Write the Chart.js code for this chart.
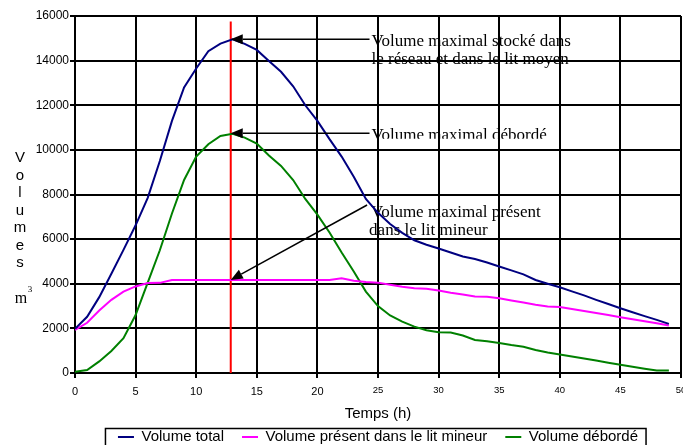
<!DOCTYPE html>
<html lang="fr">
<head>
<meta charset="UTF-8">
<title>Volumes</title>
<style>
  html, body { margin: 0; padding: 0; background: #fff; }
  #cadre { width: 683px; height: 445px; }
</style>
</head>
<body>
<div id="cadre"><canvas id="myChart" width="683" height="445"></canvas></div>
<script src="https://cdn.jsdelivr.net/npm/chart.js@4.4.0/dist/chart.umd.min.js"></script>
<script>
// Temps (h) et volumes (m3) relevés heure par heure
const heures = [0, 1, 2, 3, 4, 5, 6, 7, 8, 9, 10, 11, 12, 13, 14, 15, 16, 17, 18, 19,
    20, 21, 22, 23, 24, 25, 26, 27, 28, 29, 30, 31, 32, 33, 34, 35, 36, 37, 38, 39,
    40, 41, 42, 43, 44, 45, 46, 47, 48, 49];

const volumeTotal = [1980, 2520, 3400, 4450, 5520, 6620, 7850, 9500, 11300, 12800,
    13650, 14420, 14760, 14950, 14750, 14480, 13980, 13500, 12850, 12000,
    11300, 10480, 9700, 8800, 7800, 7180, 6680, 6280, 5950, 5750,
    5580, 5400, 5220, 5110, 4950, 4770, 4600, 4420, 4170, 4000,
    3840, 3660, 3480, 3280, 3090, 2900, 2720, 2550, 2380, 2200];

const volumeLitMineur = [1930, 2250, 2800, 3280, 3650, 3880, 4030, 4040, 4170, 4170,
    4170, 4170, 4170, 4170, 4170, 4170, 4170, 4170, 4170, 4170,
    4170, 4170, 4250, 4130, 4080, 4050, 3960, 3870, 3800, 3780,
    3700, 3600, 3520, 3430, 3420, 3350, 3250, 3160, 3060, 2980,
    2960, 2870, 2780, 2690, 2600, 2500, 2410, 2320, 2230, 2130];

const volumeDeborde = [50, 130, 520, 990, 1560, 2600, 4050, 5500, 7150, 8650,
    9700, 10250, 10620, 10720, 10550, 10280, 9750, 9280, 8650, 7800,
    7100, 6300, 5400, 4550, 3650, 3000, 2580, 2300, 2080, 1920,
    1830, 1810, 1680, 1480, 1420, 1340, 1250, 1180, 1030, 920,
    830, 740, 650, 560, 460, 370, 280, 190, 110, 110];

const ticksX = [0, 5, 10, 15, 20, 25, 30, 35, 40, 45, 50];
const ticksY = [0, 2000, 4000, 6000, 8000, 10000, 12000, 14000, 16000];

// ligne rouge : instant du maximum
const tempsPic = 12.85;
const hautLignePic = 15750;

// flèches d'annotation : pointe sur la ligne rouge, queue vers le texte
const noteTextes = [
    ['Volume maximal stocké dans', 'le réseau et dans le lit moyen'],
    ['Volume maximal débordé'],
    ['Volume maximal présent', 'dans le lit mineur']
];
const notePointeY = [14960, 10750, 4170];
const noteQueueX = [24.3, 24.3, 24.1];
const noteQueueY = [14960, 10750, 7530];

const SANS = '"Liberation Sans", Arial, sans-serif';
const SERIF = '"Liberation Serif", "Times New Roman", serif';

function points(valeurs) {
    return valeurs.map((v, i) => ({ x: heures[i], y: v }));
}

// textes des annotations, sous la grille
const textesNotes = {
    id: 'textesNotes',
    beforeDraw(chart) {
        const ctx = chart.ctx;
        const sx = chart.scales.x, sy = chart.scales.y;
        ctx.save();
        ctx.fillStyle = '#000';
        ctx.font = '17px ' + SERIF;
        ctx.textAlign = 'left';
        ctx.textBaseline = 'alphabetic';
        for (let i = 0; i < noteTextes.length; i++) {
            const qx = sx.getPixelForValue(noteQueueX[i]);
            const qy = sy.getPixelForValue(noteQueueY[i]);
            if (i === 0) {
                ctx.fillText(noteTextes[i][0], qx + 2, qy + 7);
                ctx.fillText(noteTextes[i][1], qx + 2, qy + 25);
            } else if (i === 1) {
                // cadre du texte rogné sous la flèche
                ctx.save();
                ctx.beginPath();
                ctx.rect(qx, qy - 10, 220, 15.5);
                ctx.clip();
                ctx.fillText(noteTextes[i][0], qx + 2, qy + 7);
                ctx.restore();
            } else {
                ctx.fillText(noteTextes[i][0], qx + 4, qy + 12);
                ctx.fillText(noteTextes[i][1], qx + 2, qy + 30);
            }
        }
        ctx.restore();
    }
};

// flèches noires
const flechesNotes = {
    id: 'flechesNotes',
    afterDatasetsDraw(chart) {
        const ctx = chart.ctx;
        const sx = chart.scales.x, sy = chart.scales.y;
        ctx.save();
        ctx.strokeStyle = '#000';
        ctx.fillStyle = '#000';
        ctx.lineWidth = 1.5;
        for (let i = 0; i < noteTextes.length; i++) {
            const px = sx.getPixelForValue(tempsPic);
            const py = sy.getPixelForValue(notePointeY[i]);
            const qx = sx.getPixelForValue(noteQueueX[i]);
            const qy = sy.getPixelForValue(noteQueueY[i]);
            const ang = Math.atan2(qy - py, qx - px);
            const lg = 12, dem = 5;
            const bx = px + Math.cos(ang) * lg, by = py + Math.sin(ang) * lg;
            ctx.beginPath();
            ctx.moveTo(qx, qy);
            ctx.lineTo(bx, by);
            ctx.stroke();
            ctx.beginPath();
            ctx.moveTo(px, py);
            ctx.lineTo(bx - Math.sin(ang) * dem, by + Math.cos(ang) * dem);
            ctx.lineTo(bx + Math.sin(ang) * dem, by - Math.cos(ang) * dem);
            ctx.closePath();
            ctx.fill();
        }
        ctx.restore();
    }
};

// titre vertical de l'axe Y, cadre de la légende
const habillage = {
    id: 'habillage',
    afterDraw(chart) {
        const ctx = chart.ctx;
        const area = chart.chartArea;
        ctx.save();
        ctx.fillStyle = '#000';
        ctx.textAlign = 'center';
        ctx.textBaseline = 'alphabetic';
        ctx.font = '15px ' + SANS;
        const lettres = 'Volumes'.split('');
        const y0 = area.top + 146;
        lettres.forEach((l, i) => ctx.fillText(l, 20, y0 + i * 17.5));
        ctx.font = '16px ' + SERIF;
        ctx.fillText('m', 21, area.top + 287);
        ctx.font = '9px ' + SERIF;
        ctx.fillText('3', 30, area.top + 276);

        const lg = chart.legend;
        const boites = lg.legendHitBoxes;
        if (boites && boites.length) {
            const premier = boites[0];
            const dernier = boites[boites.length - 1];
            const gauche = premier.left - 12.5;
            const droite = dernier.left + dernier.width + 8;
            ctx.strokeStyle = '#000';
            ctx.lineWidth = 1.5;
            ctx.strokeRect(gauche, premier.top - 1, droite - gauche, 18);
        }
        ctx.restore();
    }
};

// l'axe X va jusqu'au bord droit, l'étiquette 50 est coupée
function sansMarges(s) {
    s.paddingLeft = 0;
    s.paddingRight = 0;
}

const ctx = document.getElementById('myChart');

new Chart(ctx, {
    type: 'line',
    data: {
        datasets: [{
            label: 'Volume total',
            data: points(volumeTotal),
            borderColor: '#000080',
            backgroundColor: '#000080',
            borderWidth: 2
        }, {
            label: 'Volume présent dans le lit mineur',
            data: points(volumeLitMineur),
            borderColor: '#ff00ff',
            backgroundColor: '#ff00ff',
            borderWidth: 2
        }, {
            label: 'Volume débordé',
            data: points(volumeDeborde),
            borderColor: '#008000',
            backgroundColor: '#008000',
            borderWidth: 2
        }, {
            label: 'pic',
            data: [{ x: tempsPic, y: 0 }, { x: tempsPic, y: hautLignePic }],
            borderColor: '#ff0000',
            backgroundColor: '#ff0000',
            borderWidth: 2
        }]
    },
    options: {
        responsive: false,
        animation: false,
        events: [],
        elements: {
            point: { radius: 0 },
            line: { tension: 0 }
        },
        layout: {
            autoPadding: false,
            padding: { top: 16, left: 35, right: 2, bottom: -9.5 }
        },
        scales: {
            x: {
                type: 'linear',
                min: 0,
                max: 50,
                afterBuildTicks: s => { s.ticks = ticksX.map(v => ({ value: v })); },
                afterFit: s => { s.height = 38.5; sansMarges(s); },
                grid: { color: '#000', lineWidth: 2, tickLength: 5, tickColor: '#000' },
                border: { color: '#000', width: 2 },
                ticks: {
                    color: '#000',
                    padding: 7,
                    maxRotation: 0,
                    font: c => ({ family: SANS, size: c.tick && c.tick.value <= 20 ? 11 : 9.5 })
                },
                title: {
                    display: true,
                    text: 'Temps (h)',
                    color: '#000',
                    font: { family: SANS, size: 15 },
                    padding: { top: 0, bottom: -11 }
                }
            },
            y: {
                min: 0,
                max: 16000,
                afterBuildTicks: s => { s.ticks = ticksY.map(v => ({ value: v })); },
                afterFit: s => { s.width = 40; },
                grid: { color: '#000', lineWidth: 2, tickLength: 5, tickColor: '#000' },
                border: { color: '#000', width: 2 },
                ticks: {
                    color: '#000',
                    padding: 1,
                    font: { family: SANS, size: 12 },
                    callback: v => String(v)
                }
            }
        },
        plugins: {
            tooltip: { enabled: false },
            legend: {
                position: 'bottom',
                fullSize: false,
                labels: {
                    color: '#000',
                    font: { family: SANS, size: 15 },
                    boxWidth: 16,
                    boxHeight: 2,
                    padding: 18,
                    filter: item => item.datasetIndex < 3,
                    generateLabels: chart => Chart.defaults.plugins.legend.labels
                        .generateLabels(chart)
                        .map(item => Object.assign(item, { lineWidth: 0, fillStyle: item.strokeStyle }))
                }
            }
        }
    },
    plugins: [textesNotes, flechesNotes, habillage]
});
</script>
</body>
</html>
